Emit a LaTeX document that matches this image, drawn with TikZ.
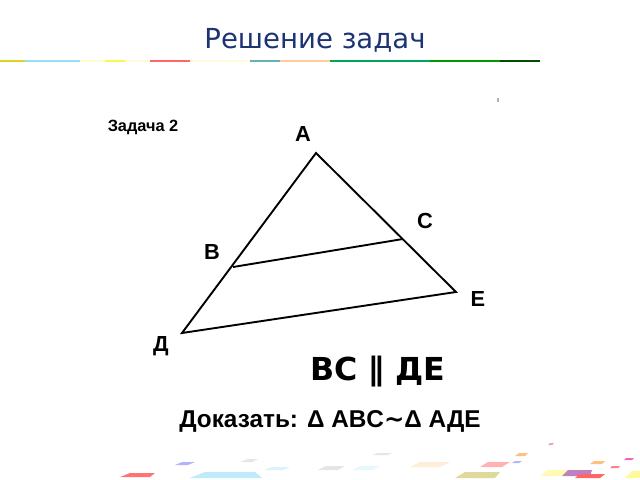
\documentclass[tikz,border=0pt]{standalone}
\usepackage{fontspec}
\setmainfont{Liberation Sans}
\newfontfamily\dejavu{DejaVu Sans}
\definecolor{titleblue}{RGB}{28,52,115}
\begin{document}
\begin{tikzpicture}[x=0.025cm,y=-0.025cm,
  lbl/.style={font=\fontsize{15.5}{18}\selectfont\bfseries, inner sep=0pt},
  side/.style={line width=1.35pt, line join=miter},
  bit/.style={line width=2pt}]
\useasboundingbox (0,0) rectangle (640,480);

%Title
\node[text=titleblue, font=\dejavu\fontsize{19.6}{22}\selectfont] (title) at (315,40) {Решение задач};

%Stripe
\draw[bit, yellow!85!black] (0,61) -- (25,61);
\draw[bit, cyan!40] (25,61) -- (80,61);
\draw[bit, yellow!20] (80,61) -- (105,61);
\draw[bit, yellow!70] (105,61) -- (125,61);
\draw[bit, yellow!15] (125,61) -- (150,61);
\draw[bit, red!60] (150,61) -- (190,61);
\draw[bit, yellow!15] (190,61) -- (250,61);
\draw[bit, teal!60] (250,61) -- (280,61);
\draw[bit, orange!40] (280,61) -- (330,61);
\draw[bit, teal!70!green] (330,61) -- (430,61);
\draw[bit, green!60!black] (430,61) -- (500,61);
\draw[bit, green!30!black] (500,61) -- (540,61);

%Task
\node[font=\fontsize{11.6}{13}\selectfont\bfseries] (task) at (143,127) {Задача 2};
\node[fill=gray!60, inner sep=0pt, minimum width=1.2pt, minimum height=2.5pt] (dot) at (498,100) {};

%Triangle
\coordinate (A) at (316,153);
\coordinate (B) at (233,267);
\coordinate (C) at (403,239);
\coordinate (D) at (182,333);
\coordinate (E) at (456,292);

\draw[side] (A) -- (D) -- (E) -- cycle;
\draw[side] (B) -- (C);

%Labels
\node[lbl] (la) at (303,134) {A};
\node[lbl] (lb) at (212,252) {B};
\node[lbl] (lc) at (425,221) {C};
\node[lbl] (le) at (478,299) {E};
\node[lbl] (ld) at (161,346) {Д};

%Statement
\node[font=\dejavu\fontsize{22.5}{26}\selectfont\bfseries] (par) at (378,372) {BC ∥ ДЕ};
\node[font=\fontsize{17.3}{20}\selectfont\bfseries] (prove) at (330,421) {Доказать: Δ ABC{\dejavu\bfseries ∼}Δ АДЕ};

%Confetti
\fill[red!55] (120,477) -- (130,473) -- (155,473) -- (150,477) -- cycle;
\fill[cyan!25] (190,478) -- (205,472) -- (255,472) -- (262,478) -- cycle;
\fill[blue!30] (175,465) -- (182,462) -- (195,462) -- (188,465) -- cycle;
\fill[gray!20] (240,462) -- (248,459) -- (258,459) -- (252,462) -- cycle;
\fill[cyan!15] (265,470) -- (272,467) -- (290,467) -- (283,470) -- cycle;
\fill[gray!20] (318,470) -- (326,466) -- (345,466) -- (338,470) -- cycle;
\fill[gray!20] (372,455) -- (378,453) -- (393,453) -- (387,455) -- cycle;
\fill[cyan!10] (352,470) -- (360,466) -- (380,466) -- (372,470) -- cycle;
\fill[orange!15] (410,467) -- (420,462) -- (450,462) -- (440,467) -- cycle;
\fill[red!30] (480,467) -- (488,462) -- (510,462) -- (502,467) -- cycle;
\fill[olive!30] (455,478) -- (465,472) -- (500,472) -- (495,478) -- cycle;
\fill[orange!50] (515,456) -- (519,453) -- (528,453) -- (525,456) -- cycle;
\fill[blue!30] (512,463) -- (515,461) -- (522,461) -- (519,463) -- cycle;
\fill[yellow!30] (540,476) -- (548,470) -- (575,470) -- (568,476) -- cycle;
\fill[violet!50] (562,476) -- (568,470) -- (592,470) -- (590,476) -- cycle;
\fill[red!60] (575,478) -- (580,474) -- (605,474) -- (600,478) -- cycle;
\fill[orange!50] (590,464) -- (594,461) -- (605,461) -- (602,464) -- cycle;
\fill[magenta!60] (624,460) -- (626,458) -- (634,458) -- (632,460) -- cycle;
\fill[red!50] (610,468) -- (612,466) -- (620,466) -- (618,468) -- cycle;
\fill[yellow!40] (625,478) -- (632,471) -- (640,471) -- (640,478) -- cycle;
\fill[magenta!40] (548,445) -- (550,443) -- (554,443) -- (552,445) -- cycle;
\end{tikzpicture}
\end{document}
